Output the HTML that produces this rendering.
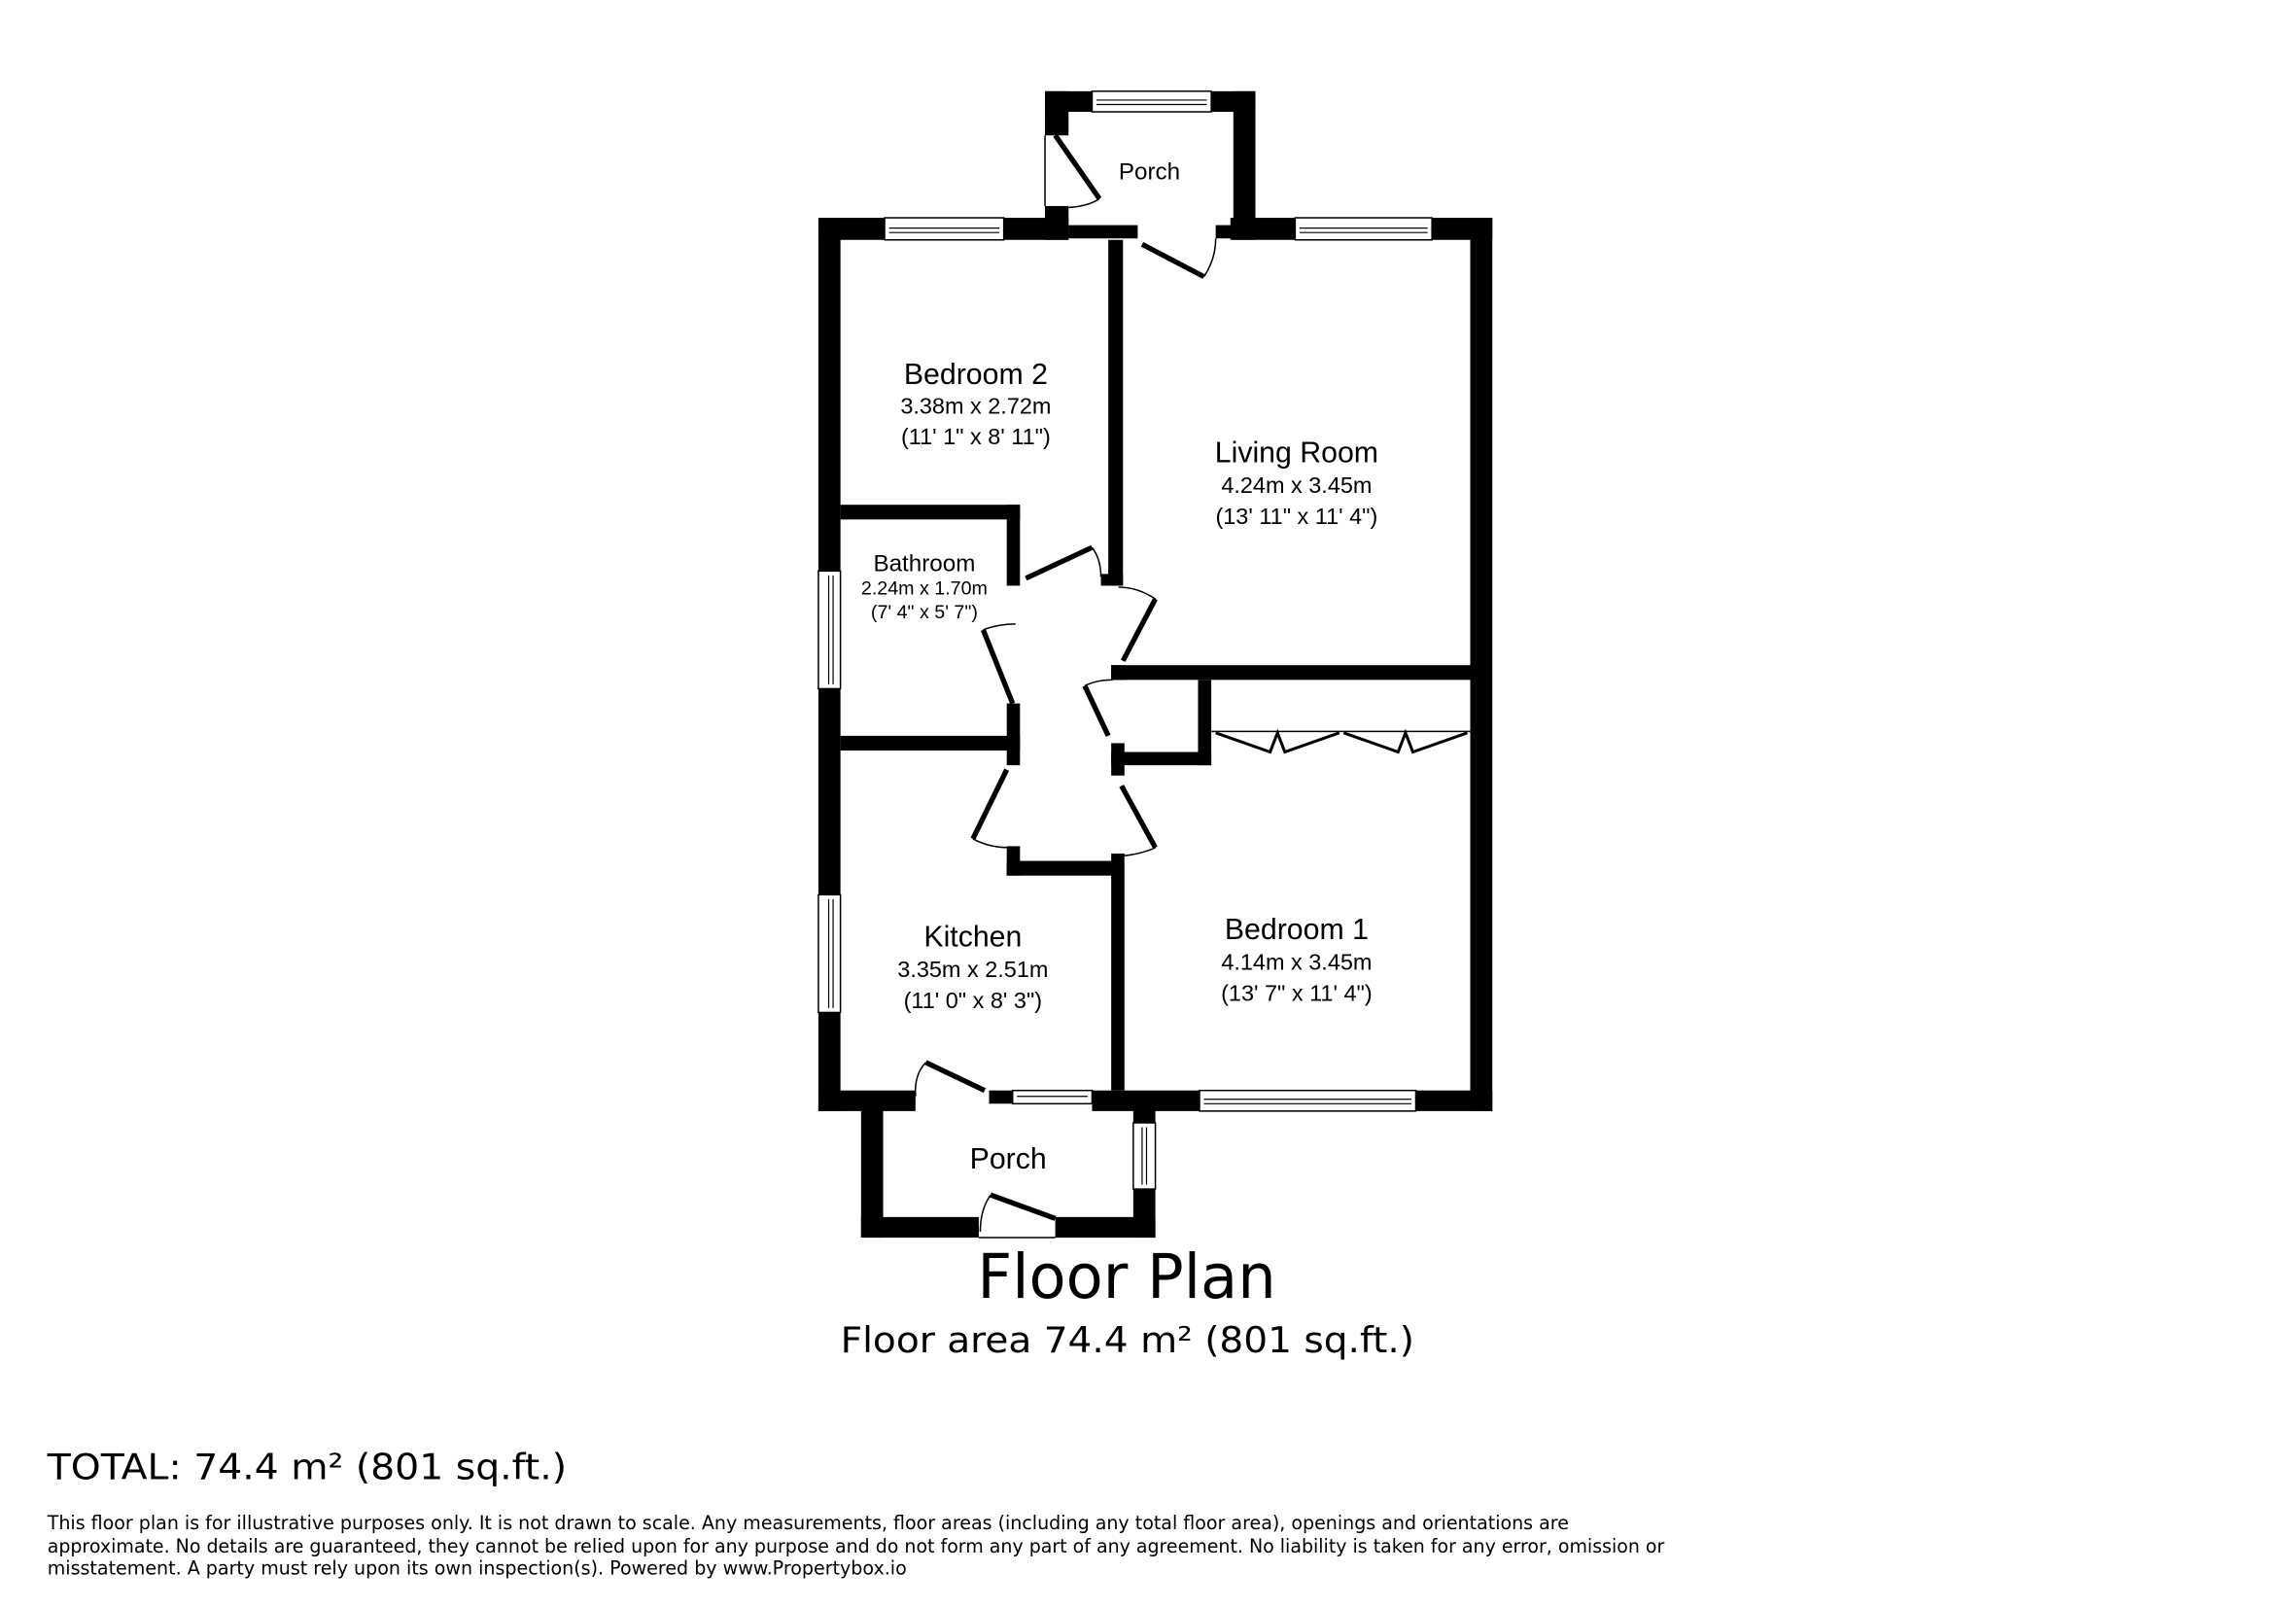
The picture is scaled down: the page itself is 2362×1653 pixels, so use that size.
<!DOCTYPE html>
<html><head><meta charset="utf-8"><style>
html,body{margin:0;padding:0;background:#fff;width:2362px;height:1653px;overflow:hidden}
svg{display:block}
.r{font-family:"Liberation Sans",Arial,sans-serif;text-anchor:middle;fill:#000}
.d{font-family:"DejaVu Sans",sans-serif;fill:#000}
.leaf{stroke:#000;stroke-width:3.5;fill:none}
.arc{stroke:#000;stroke-width:1;fill:none}
.win{fill:#fff;stroke:#000;stroke-width:1}
.wl{stroke:#000;stroke-width:0.8}
</style></head><body>
<svg width="2362" height="1653" viewBox="0 0 1560 1092" xmlns="http://www.w3.org/2000/svg">
<rect width="1560" height="1092" fill="#fff"/>
<g fill="#000">
<!-- outer walls -->
<rect x="556" y="148" width="15" height="607"/>
<rect x="556" y="148" width="170" height="15"/>
<rect x="836" y="148" width="178" height="15"/>
<rect x="999" y="148" width="15" height="607"/>
<!-- top porch -->
<rect x="710" y="62" width="16" height="30"/>
<rect x="710" y="140" width="16" height="23"/>
<rect x="710" y="62" width="143" height="14"/>
<rect x="838" y="62" width="15" height="101"/>
<rect x="726" y="153" width="47" height="9"/>
<rect x="826" y="153" width="12" height="9"/>
<!-- bottom wall -->
<rect x="556" y="741" width="66" height="14"/>
<rect x="672" y="741" width="16" height="9"/>
<rect x="742" y="741" width="73" height="14"/>
<rect x="962" y="741" width="52" height="14"/>
<!-- bottom porch -->
<rect x="585" y="748" width="15" height="93"/>
<rect x="585" y="827" width="80" height="14"/>
<rect x="717" y="827" width="68" height="14"/>
<rect x="770" y="748" width="15" height="93"/>
<!-- internal -->
<rect x="753" y="163" width="10" height="235"/>
<rect x="748" y="390" width="15" height="8"/>
<rect x="571" y="343" width="122" height="10"/>
<rect x="684" y="343" width="9" height="55"/>
<rect x="684" y="478" width="9" height="42"/>
<rect x="571" y="500" width="122" height="10"/>
<rect x="684" y="575" width="9" height="20"/>
<rect x="684" y="585" width="79" height="10"/>
<rect x="755" y="452" width="245" height="10"/>
<rect x="755" y="452" width="9" height="10"/>
<rect x="755" y="505" width="9" height="22"/>
<rect x="755" y="511" width="68" height="9"/>
<rect x="814" y="462" width="9" height="58"/>
<rect x="755" y="580" width="9" height="161"/>
</g>
<!-- windows -->
<g>
<rect class="win" x="601" y="148" width="81" height="15"/><line class="wl" x1="604" y1="155" x2="679" y2="155"/><line class="wl" x1="604" y1="158" x2="679" y2="158"/>
<rect class="win" x="880" y="148" width="93" height="15"/><line class="wl" x1="883" y1="155" x2="970" y2="155"/><line class="wl" x1="883" y1="158" x2="970" y2="158"/>
<rect class="win" x="742" y="62" width="81" height="14"/><line class="wl" x1="745" y1="68" x2="820" y2="68"/><line class="wl" x1="745" y1="71" x2="820" y2="71"/>
<rect class="win" x="556" y="388" width="15" height="80"/><line class="wl" x1="563" y1="391" x2="563" y2="465"/><line class="wl" x1="566" y1="391" x2="566" y2="465"/>
<rect class="win" x="556" y="608" width="15" height="80"/><line class="wl" x1="563" y1="611" x2="563" y2="685"/><line class="wl" x1="566" y1="611" x2="566" y2="685"/>
<rect class="win" x="688" y="741" width="54" height="9"/><line class="wl" x1="691" y1="745" x2="739" y2="745"/>
<rect class="win" x="815" y="741" width="147" height="14"/><line class="wl" x1="818" y1="747" x2="959" y2="747"/><line class="wl" x1="818" y1="750" x2="959" y2="750"/>
<rect class="win" x="770" y="763" width="15" height="45"/><line class="wl" x1="776" y1="766" x2="776" y2="805"/><line class="wl" x1="779" y1="766" x2="779" y2="805"/>
</g>
<line class="arc" x1="710" y1="92" x2="710" y2="140"/>
<line class="arc" x1="665" y1="841" x2="717" y2="841"/>
<!-- doors -->
<line class="leaf" x1="717" y1="92" x2="747" y2="135"/><path class="arc" d="M747 135 Q740 140 726 141"/>
<line class="leaf" x1="776" y1="166" x2="818" y2="188"/><path class="arc" d="M818 188 Q826 176 826 162"/>
<line class="leaf" x1="697" y1="393" x2="742" y2="372"/><path class="arc" d="M742 372 Q748 380 748 392"/>
<line class="leaf" x1="785" y1="407" x2="763" y2="449"/><path class="arc" d="M785 407 Q773 399 760 399"/>
<line class="leaf" x1="668" y1="428" x2="688" y2="478"/><path class="arc" d="M668 428 Q678 424 690 424"/>
<line class="leaf" x1="737" y1="466" x2="753" y2="500"/><path class="arc" d="M737 466 Q745 462 756 462"/>
<line class="leaf" x1="684" y1="523" x2="661" y2="570"/><path class="arc" d="M661 570 Q672 576 686 576"/>
<line class="leaf" x1="762" y1="534" x2="785" y2="576"/><path class="arc" d="M785 576 Q774 581 758 582"/>
<line class="leaf" x1="629" y1="722" x2="669" y2="741"/><path class="arc" d="M629 722 Q621 730 622 745"/>
<line class="leaf" x1="673" y1="812" x2="717" y2="828"/><path class="arc" d="M673 812 Q666 822 666 837"/>
<!-- wardrobe -->
<line class="arc" x1="823" y1="497" x2="999" y2="497"/>
<polyline class="leaf" style="stroke-width:2" points="826,498 863,511 868,498 873,511 910,498"/>
<polyline class="leaf" style="stroke-width:2" points="913,498 950,511 955,498 960,511 997,498"/>
<!-- labels -->
<text class="r" x="781" y="122" font-size="16">Porch</text>
<text class="r" x="663" y="261" font-size="20">Bedroom 2</text>
<text class="r" x="663" y="281" font-size="15.5">3.38m x 2.72m</text>
<text class="r" x="663" y="302" font-size="15.5">(11' 1" x 8' 11")</text>
<text class="r" x="881" y="314" font-size="20">Living Room</text>
<text class="r" x="881" y="335" font-size="15.5">4.24m x 3.45m</text>
<text class="r" x="881" y="356" font-size="15.5">(13' 11" x 11' 4")</text>
<text class="r" x="628" y="388" font-size="16">Bathroom</text>
<text class="r" x="628" y="404" font-size="13">2.24m x 1.70m</text>
<text class="r" x="628" y="420" font-size="13">(7' 4" x 5' 7")</text>
<text class="r" x="661" y="643" font-size="20">Kitchen</text>
<text class="r" x="661" y="664" font-size="15.5">3.35m x 2.51m</text>
<text class="r" x="661" y="685" font-size="15.5">(11' 0" x 8' 3")</text>
<text class="r" x="881" y="638" font-size="20">Bedroom 1</text>
<text class="r" x="881" y="659" font-size="15.5">4.14m x 3.45m</text>
<text class="r" x="881" y="680" font-size="15.5">(13' 7" x 11' 4")</text>
<text class="r" x="685" y="794" font-size="20">Porch</text>
<text class="d" x="664" y="882" font-size="42" textLength="203" lengthAdjust="spacingAndGlyphs">Floor Plan</text>
<text class="d" x="571" y="919" font-size="24" textLength="390" lengthAdjust="spacingAndGlyphs">Floor area 74.4 m² (801 sq.ft.)</text>
<text class="d" x="32" y="1005" font-size="24" textLength="353" lengthAdjust="spacingAndGlyphs">TOTAL: 74.4 m² (801 sq.ft.)</text>
<text class="d" x="32" y="1039" font-size="13" textLength="1034" lengthAdjust="spacingAndGlyphs" fill="#222">This floor plan is for illustrative purposes only. It is not drawn to scale. Any measurements, floor areas (including any total floor area), openings and orientations are</text>
<text class="d" x="32" y="1055" font-size="13" textLength="1099" lengthAdjust="spacingAndGlyphs" fill="#222">approximate. No details are guaranteed, they cannot be relied upon for any purpose and do not form any part of any agreement. No liability is taken for any error, omission or</text>
<text class="d" x="32" y="1070" font-size="13" textLength="584" lengthAdjust="spacingAndGlyphs" fill="#222">misstatement. A party must rely upon its own inspection(s). Powered by www.Propertybox.io</text>
</svg>
</body></html>
